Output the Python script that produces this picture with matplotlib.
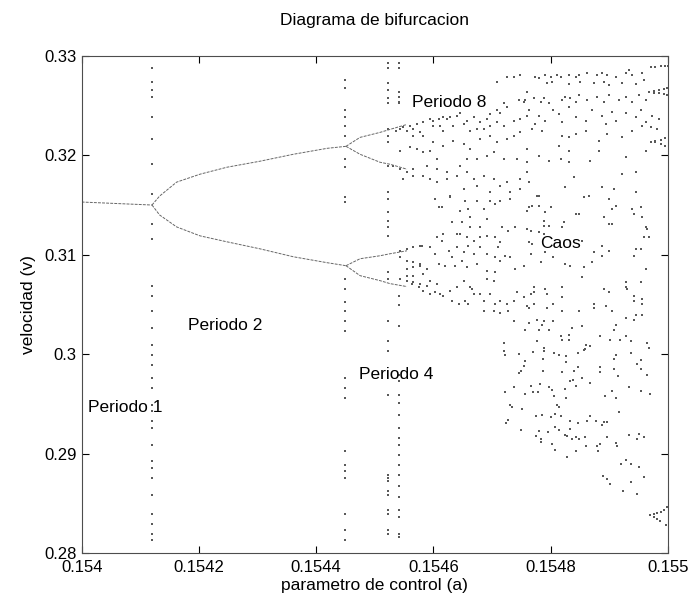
import numpy as np
import matplotlib
matplotlib.use("Agg")
import matplotlib.pyplot as plt

plt.rcParams['font.family'] = ['Liberation Sans', 'DejaVu Sans']

# --- branches (a, v) ---
p1_a = [0.15400, 0.15404, 0.15408, 0.15412]
p1_v = [0.3153, 0.3152, 0.3151, 0.3150]

p2_up_a = [0.154120, 0.154133, 0.154162, 0.154202, 0.154248, 0.154304, 0.154361, 0.154419, 0.154451]
p2_up_v = [0.3150, 0.3159, 0.3173, 0.3181, 0.3188, 0.3194, 0.3201, 0.3207, 0.3209]
p2_lo_a = [0.154120, 0.154133, 0.154162, 0.154202, 0.154248, 0.154304, 0.154361, 0.154419, 0.154451]
p2_lo_v = [0.3150, 0.3140, 0.3128, 0.3119, 0.3113, 0.3106, 0.3098, 0.3092, 0.3089]

p4_a = [0.154451, 0.154475, 0.154509, 0.154526, 0.154555]
p4_uu = [0.3209, 0.3218, 0.3223, 0.3226, 0.3231]
p4_ul = [0.3209, 0.3201, 0.3193, 0.3191, 0.3186]
p4_lu = [0.3089, 0.3096, 0.3099, 0.3101, 0.3104]
p4_ll = [0.3089, 0.3079, 0.3074, 0.3071, 0.3068]

# transient columns at the bifurcation points
col1_a = 0.154120
col1_v = [0.3288, 0.3274, 0.3266, 0.3259, 0.3238, 0.3216, 0.3191, 0.3161, 0.3131, 0.3116,
          0.3069, 0.3059, 0.3043, 0.3026, 0.3009, 0.2999, 0.2989, 0.2976, 0.2966, 0.2949,
          0.2943, 0.2933, 0.2926, 0.2909, 0.2893, 0.2886, 0.2876, 0.2859, 0.2839, 0.2829,
          0.2819, 0.2813]
col2_a = 0.154450
col2_v = [0.3276, 0.3268, 0.3246, 0.3238, 0.3229, 0.3219, 0.3196, 0.3188, 0.3158, 0.3153,
          0.3076, 0.3066, 0.3053, 0.3043, 0.3033, 0.3023, 0.2976, 0.2966, 0.2956, 0.2903,
          0.2889, 0.2883, 0.2876, 0.2839, 0.2823, 0.2813]
col3_a = 0.154523
col3_v = [0.3293, 0.3288, 0.3273, 0.3266, 0.3258, 0.3253, 0.3226, 0.3219, 0.3213, 0.3189,
          0.3163, 0.3156, 0.3143, 0.3134, 0.3128, 0.3119, 0.3083, 0.3076, 0.3033, 0.3013,
          0.3003, 0.2959, 0.2879, 0.2876, 0.2873, 0.2863, 0.2859, 0.2843, 0.2839, 0.2823,
          0.2819]
col4_a = 0.154542
col4_v = [0.3293, 0.3288, 0.3264, 0.3259, 0.3254, 0.3253, 0.3059, 0.3049, 0.3028, 0.2979,
          0.2973, 0.2959, 0.2951, 0.2939, 0.2926, 0.2916, 0.2909, 0.2899, 0.2889, 0.2879,
          0.2868, 0.2856, 0.2843, 0.2836, 0.2819, 0.2816]

# chaotic region, upper band
up_a = [0.154537, 0.154543, 0.154549, 0.154555, 0.154560, 0.154566, 0.154572, 0.154577, 0.154583, 0.154594,
        0.154600, 0.154609, 0.154617, 0.154623, 0.154566, 0.154583, 0.154600, 0.154612, 0.154617, 0.154629,
        0.154640, 0.154646, 0.154657, 0.154669, 0.154680, 0.154691, 0.154697, 0.154708, 0.154714, 0.154720,
        0.154726, 0.154746, 0.154754, 0.154760, 0.154708, 0.154726, 0.154737, 0.154748, 0.154634, 0.154652,
        0.154663, 0.154674, 0.154686, 0.154697, 0.154708, 0.154720, 0.154737, 0.154748, 0.154760, 0.154600,
        0.154617, 0.154634, 0.154652, 0.154663, 0.154680, 0.154697, 0.154708, 0.154726, 0.154737, 0.154748,
        0.154560, 0.154572, 0.154583, 0.154594, 0.154606, 0.154543, 0.154532, 0.154543, 0.154555, 0.154566,
        0.154589, 0.154606, 0.154623, 0.154646, 0.154657, 0.154674, 0.154691, 0.154703, 0.154720, 0.154743,
        0.154760, 0.154549, 0.154566, 0.154583, 0.154594, 0.154606, 0.154623, 0.154640, 0.154657, 0.154669,
        0.154686, 0.154703, 0.154714, 0.154726, 0.154748, 0.154760, 0.154629, 0.154652, 0.154674, 0.154697,
        0.154731, 0.154748,
        0.154774, 0.154780, 0.154791, 0.154800, 0.154811, 0.154817, 0.154831, 0.154843, 0.154848, 0.154862,
        0.154880, 0.154888, 0.154897, 0.154911, 0.154928, 0.154939, 0.154956, 0.154934,
        0.154971, 0.154979, 0.154988, 0.154996, 0.155000,
        0.154794, 0.154803, 0.154831, 0.154851, 0.154874, 0.154891, 0.154899, 0.154922, 0.154945, 0.154959,
        0.154968, 0.154976, 0.154985, 0.154993, 0.154999, 0.154976, 0.154985, 0.154993, 0.154999,
        0.154757, 0.154771, 0.154783, 0.154788, 0.154797, 0.154820, 0.154825, 0.154834, 0.154843, 0.154848,
        0.154862, 0.154880, 0.154891, 0.154899, 0.154917, 0.154928, 0.154939, 0.154951, 0.154962,
        0.154763, 0.154780, 0.154791, 0.154805, 0.154814, 0.154831, 0.154843, 0.154860, 0.154871, 0.154888,
        0.154905, 0.154911, 0.154928, 0.154945, 0.154954, 0.154962, 0.154973, 0.154985, 0.154774, 0.154820,
        0.154894,
        0.154768, 0.154785, 0.154820, 0.154831, 0.154843, 0.154860, 0.154882, 0.154897, 0.154922, 0.154939,
        0.154956, 0.154971, 0.154982,
        0.154971, 0.154979, 0.154988, 0.154996, 0.154979, 0.154988, 0.154996,
        0.154814, 0.154831, 0.154962,
        0.154760, 0.154780, 0.154797, 0.154817, 0.154831, 0.154868, 0.154882, 0.154922, 0.154928, 0.154945,
        0.154763, 0.154840, 0.154888, 0.154908, 0.154825, 0.154945, 0.154780, 0.154865]
up_v = [0.3224, 0.3226, 0.3228, 0.3224, 0.3229, 0.3226, 0.3231, 0.3223, 0.3233, 0.3236,
        0.3234, 0.3236, 0.3238, 0.3236, 0.3219, 0.3219, 0.3229, 0.3229, 0.3224, 0.3238,
        0.3239, 0.3243, 0.3234, 0.3238, 0.3233, 0.3236, 0.3241, 0.3246, 0.3243, 0.3253,
        0.3249, 0.3256, 0.3254, 0.3264, 0.3274, 0.3279, 0.3279, 0.3281, 0.3229, 0.3231,
        0.3224, 0.3226, 0.3226, 0.3229, 0.3233, 0.3229, 0.3234, 0.3236, 0.3239, 0.3213,
        0.3209, 0.3214, 0.3211, 0.3206, 0.3216, 0.3219, 0.3213, 0.3216, 0.3219, 0.3223,
        0.3208, 0.3206, 0.3203, 0.3204, 0.3196, 0.3204, 0.3189, 0.3186, 0.3183, 0.3186,
        0.3189, 0.3186, 0.3183, 0.3189, 0.3196, 0.3196, 0.3199, 0.3203, 0.3196, 0.3196,
        0.3206, 0.3176, 0.3179, 0.3179, 0.3176, 0.3173, 0.3176, 0.3179, 0.3183, 0.3176,
        0.3179, 0.3176, 0.3169, 0.3173, 0.3176, 0.3183, 0.3159, 0.3166, 0.3169, 0.3163,
        0.3163, 0.3166,
        0.3279, 0.3278, 0.3281, 0.3279, 0.3281, 0.3279, 0.3281, 0.3279, 0.3281, 0.3283,
        0.3281, 0.3283, 0.3281, 0.3279, 0.3283, 0.3281, 0.3283, 0.3286,
        0.3289, 0.3289, 0.3290, 0.3290, 0.3290,
        0.3273, 0.3274, 0.3272, 0.3274, 0.3273, 0.3274, 0.3271, 0.3273, 0.3272, 0.3276,
        0.3264, 0.3265, 0.3266, 0.3267, 0.3268, 0.3263, 0.3263, 0.3262, 0.3261,
        0.3256, 0.3258, 0.3254, 0.3258, 0.3253, 0.3256, 0.3259, 0.3258, 0.3254, 0.3261,
        0.3256, 0.3259, 0.3254, 0.3261, 0.3256, 0.3259, 0.3254, 0.3261, 0.3256,
        0.3246, 0.3239, 0.3234, 0.3246, 0.3241, 0.3249, 0.3238, 0.3234, 0.3246, 0.3239,
        0.3244, 0.3234, 0.3243, 0.3238, 0.3246, 0.3233, 0.3239, 0.3236, 0.3231, 0.3233,
        0.3231,
        0.3226, 0.3224, 0.3219, 0.3218, 0.3221, 0.3224, 0.3214, 0.3221, 0.3218, 0.3224,
        0.3229, 0.3228, 0.3226,
        0.3213, 0.3214, 0.3215, 0.3217, 0.3213, 0.3211, 0.3209,
        0.3209, 0.3204, 0.3204,
        0.3193, 0.3199, 0.3194, 0.3196, 0.3193, 0.3194, 0.3204, 0.3181, 0.3198, 0.3183,
        0.3173, 0.3178, 0.3168, 0.3166, 0.3168, 0.3163, 0.3159, 0.3159]

# chaotic region, middle band
mid_a = [0.154603, 0.154609, 0.154614, 0.154629, 0.154646, 0.154654, 0.154660, 0.154674, 0.154686, 0.154697,
         0.154706, 0.154714, 0.154731, 0.154740, 0.154760, 0.154760, 0.154663, 0.154649, 0.154632, 0.154663,
         0.154680, 0.154691, 0.154717, 0.154728, 0.154606, 0.154617, 0.154640, 0.154646, 0.154657, 0.154669,
         0.154680, 0.154691, 0.154706, 0.154714, 0.154711, 0.154580, 0.154594, 0.154603, 0.154614, 0.154626,
         0.154632, 0.154640, 0.154652, 0.154660, 0.154669, 0.154680, 0.154691, 0.154706, 0.154714, 0.154609,
         0.154620, 0.154637, 0.154649, 0.154657, 0.154674, 0.154691, 0.154706, 0.154723, 0.154731, 0.154740,
         0.154754,
         0.154543, 0.154555, 0.154566, 0.154577, 0.154543, 0.154555, 0.154566, 0.154577, 0.154555, 0.154566,
         0.154577, 0.154589, 0.154543, 0.154555, 0.154566, 0.154577, 0.154589, 0.154555, 0.154566, 0.154583,
         0.154594, 0.154606, 0.154603, 0.154612, 0.154617, 0.154629, 0.154640, 0.154652, 0.154663, 0.154669,
         0.154680, 0.154686, 0.154697, 0.154706, 0.154714, 0.154726, 0.154632, 0.154643, 0.154654, 0.154660,
         0.154666, 0.154691, 0.154703, 0.154743, 0.154754, 0.154766, 0.154760, 0.154737, 0.154583, 0.154575,
         0.154563, 0.154594, 0.154686, 0.154703, 0.154714, 0.154728, 0.154737, 0.154757, 0.154720, 0.154720,
         0.154777, 0.154763, 0.154768, 0.154780, 0.154800, 0.154791, 0.154788, 0.154797, 0.154788, 0.154820,
         0.154823, 0.154843, 0.154848, 0.154857, 0.154899, 0.154911, 0.154905, 0.154939, 0.154954, 0.154942,
         0.154956, 0.154891, 0.154899, 0.154905, 0.154962, 0.154965, 0.154959, 0.154968, 0.154760, 0.154766,
         0.154780, 0.154788, 0.154763, 0.154768, 0.154791, 0.154766, 0.154805, 0.154783, 0.154825, 0.154834,
         0.154857, 0.154871, 0.154874, 0.154888, 0.154888, 0.154899, 0.154854, 0.154945, 0.154954, 0.154942,
         0.154962, 0.154854, 0.154928, 0.154954, 0.154928, 0.154931, 0.154891, 0.154899, 0.154942, 0.154942,
         0.154956, 0.154956, 0.154945, 0.154956, 0.154771, 0.154771, 0.154791, 0.154794, 0.154820, 0.154820,
         0.154805, 0.154771, 0.154820, 0.154794, 0.154763, 0.154874, 0.154874, 0.154894, 0.154905, 0.154848,
         0.154928, 0.154942, 0.154763, 0.154777, 0.154788, 0.154805, 0.154780, 0.154797, 0.154785, 0.154837,
         0.154854, 0.154817, 0.154831, 0.154831, 0.154820, 0.154777, 0.154788, 0.154860, 0.154868, 0.154885,
         0.154902, 0.154919, 0.154928, 0.154937, 0.154965, 0.154911, 0.154968, 0.154908, 0.154857]
mid_v = [0.3156, 0.3148, 0.3148, 0.3158, 0.3144, 0.3154, 0.3146, 0.3154, 0.3146, 0.3154,
         0.3151, 0.3154, 0.3156, 0.3128, 0.3144, 0.3126, 0.3138, 0.3133, 0.3133, 0.3128,
         0.3128, 0.3136, 0.3128, 0.3124, 0.3118, 0.3121, 0.3121, 0.3121, 0.3118, 0.3114,
         0.3118, 0.3119, 0.3118, 0.3113, 0.3108, 0.3109, 0.3108, 0.3101, 0.3114, 0.3104,
         0.3098, 0.3108, 0.3103, 0.3109, 0.3101, 0.3108, 0.3101, 0.3098, 0.3094, 0.3091,
         0.3089, 0.3089, 0.3094, 0.3088, 0.3091, 0.3084, 0.3083, 0.3099, 0.3098, 0.3086,
         0.3089,
         0.3104, 0.3106, 0.3108, 0.3109, 0.3098, 0.3094, 0.3093, 0.3091, 0.3086, 0.3088,
         0.3089, 0.3086, 0.3076, 0.3074, 0.3073, 0.3071, 0.3069, 0.3079, 0.3079, 0.3081,
         0.3074, 0.3071, 0.3063, 0.3061, 0.3059, 0.3064, 0.3068, 0.3074, 0.3068, 0.3061,
         0.3061, 0.3054, 0.3061, 0.3051, 0.3054, 0.3051, 0.3054, 0.3051, 0.3054, 0.3051,
         0.3066, 0.3076, 0.3074, 0.3063, 0.3058, 0.3061, 0.3048, 0.3054, 0.3064, 0.3068,
         0.3071, 0.3061, 0.3043, 0.3043, 0.3041, 0.3043, 0.3033, 0.3024, 0.3011, 0.3003,
         0.3159, 0.3148, 0.3149, 0.3149, 0.3148, 0.3143, 0.3134, 0.3129, 0.3129, 0.3128,
         0.3133, 0.3141, 0.3141, 0.3158, 0.3156, 0.3149, 0.3146, 0.3146, 0.3148, 0.3141,
         0.3138, 0.3138, 0.3131, 0.3131, 0.3128, 0.3126, 0.3118, 0.3118, 0.3126, 0.3124,
         0.3123, 0.3121, 0.3113, 0.3111, 0.3103, 0.3101, 0.3098, 0.3093, 0.3091, 0.3089,
         0.3088, 0.3093, 0.3103, 0.3109, 0.3099, 0.3104, 0.3114, 0.3106, 0.3106, 0.3099,
         0.3086, 0.3078, 0.3073, 0.3073, 0.3068, 0.3066, 0.3066, 0.3063, 0.3059, 0.3054,
         0.3056, 0.3051, 0.3039, 0.3039, 0.3068, 0.3063, 0.3066, 0.3061, 0.3068, 0.3058,
         0.3051, 0.3051, 0.3043, 0.3046, 0.3046, 0.3051, 0.3046, 0.3048, 0.3043, 0.3043,
         0.3036, 0.3034, 0.3031, 0.3034, 0.3033, 0.3033, 0.3024, 0.3024, 0.3029, 0.3026,
         0.3028, 0.3018, 0.3019, 0.3014, 0.3014, 0.3013, 0.3006, 0.3009, 0.3008, 0.3018,
         0.3014, 0.3014, 0.3018, 0.3013, 0.3011, 0.3029, 0.3006, 0.3024, 0.3004]

# chaotic region, lower band
lo_a = [0.154720, 0.154723, 0.154747, 0.154770, 0.154789, 0.154806, 0.154814, 0.154827, 0.154846, 0.154858,
        0.154911, 0.154937, 0.154908, 0.154954, 0.154948, 0.154757, 0.154787, 0.154827, 0.154754, 0.154750,
        0.154747, 0.154787, 0.154820, 0.154840, 0.154846, 0.154885, 0.154884, 0.154908, 0.154915, 0.154954,
        0.154964, 0.154834, 0.154839, 0.154854, 0.154843, 0.154868, 0.154767, 0.154782, 0.154797, 0.154803,
        0.154824, 0.154738, 0.154722, 0.154757, 0.154770, 0.154778, 0.154806, 0.154826, 0.154893, 0.154905,
        0.154912, 0.154933, 0.154954, 0.154969, 0.154730, 0.154735, 0.154751, 0.154811, 0.154815, 0.154776,
        0.154785, 0.154800, 0.154808, 0.154817, 0.154833, 0.154846, 0.154863, 0.154867, 0.154878, 0.154888,
        0.154891, 0.154897, 0.154917, 0.154727, 0.154724, 0.154750, 0.154781, 0.154796, 0.154808, 0.154814,
        0.154833, 0.154776, 0.154784, 0.154784, 0.154824, 0.154828, 0.154836, 0.154843, 0.154848, 0.154858,
        0.154803, 0.154808, 0.154828, 0.154844, 0.154860, 0.154879, 0.154881, 0.154884, 0.154896, 0.154911,
        0.154914, 0.154933, 0.154947, 0.154951, 0.154960, 0.154921, 0.154929, 0.154937, 0.154951, 0.154960,
        0.154938, 0.154890, 0.154897, 0.154901, 0.154924, 0.154948, 0.154970, 0.154977, 0.154982, 0.154988,
        0.154994, 0.154999, 0.154977, 0.154982, 0.154987, 0.154997]
lo_v = [0.3003, 0.2999, 0.3000, 0.3002, 0.3003, 0.3001, 0.2999, 0.2998, 0.3001, 0.3005,
        0.2999, 0.3001, 0.2995, 0.2994, 0.2990, 0.2993, 0.2995, 0.2992, 0.2988, 0.2983,
        0.2981, 0.2983, 0.2982, 0.2983, 0.2987, 0.2987, 0.2982, 0.2985, 0.2978, 0.2985,
        0.2979, 0.2973, 0.2974, 0.2976, 0.2968, 0.2971, 0.2968, 0.2970, 0.2967, 0.2964,
        0.2965, 0.2967, 0.2962, 0.2960, 0.2962, 0.2962, 0.2958, 0.2956, 0.2958, 0.2963,
        0.2956, 0.2967, 0.2963, 0.2960, 0.2949, 0.2947, 0.2945, 0.2949, 0.2947, 0.2938,
        0.2939, 0.2937, 0.2940, 0.2938, 0.2933, 0.2931, 0.2933, 0.2938, 0.2933, 0.2929,
        0.2932, 0.2932, 0.2942, 0.2934, 0.2931, 0.2924, 0.2923, 0.2922, 0.2927, 0.2924,
        0.2925, 0.2918, 0.2915, 0.2912, 0.2919, 0.2918, 0.2915, 0.2917, 0.2915, 0.2917,
        0.2910, 0.2904, 0.2897, 0.2903, 0.2908, 0.2908, 0.2903, 0.2910, 0.2917, 0.2911,
        0.2908, 0.2919, 0.2915, 0.2920, 0.2917, 0.2890, 0.2894, 0.2890, 0.2887, 0.2877,
        0.2872, 0.2878, 0.2875, 0.2870, 0.2863, 0.2860, 0.2838, 0.2839, 0.2840, 0.2841,
        0.2843, 0.2846, 0.2836, 0.2834, 0.2832, 0.2828]

xticks = [0.154, 0.1542, 0.1544, 0.1546, 0.1548, 0.155]
xtick_labels = ['0.154', '0.1542', '0.1544', '0.1546', '0.1548', '0.155']
yticks = [0.28, 0.29, 0.30, 0.31, 0.32, 0.33]
ytick_labels = ['0.28', '0.29', '0.3', '0.31', '0.32', '0.33']

labels = ['Periodo 1', 'Periodo 2', 'Periodo 4', 'Periodo 8', 'Caos']
label_a = [0.154010, 0.154181, 0.154474, 0.154564, 0.154783]
label_v = [0.2946, 0.3029, 0.2980, 0.3253, 0.3111]

fig = plt.figure(figsize=(6.92, 6.0), dpi=100)
ax = fig.add_axes([0.118, 0.078, 0.847, 0.829])

dot = dict(s=2.2, color='0.35', linewidths=0, marker='s')
line = dict(color='0.4', lw=0.7, ls=(0, (3, 1.2)))

ax.plot(p1_a, p1_v, **line)
ax.plot(p2_up_a, p2_up_v, **line)
ax.plot(p2_lo_a, p2_lo_v, **line)
for br in (p4_uu, p4_ul, p4_lu, p4_ll):
    ax.plot(p4_a, br, **line)

for ca, cv in ((col1_a, col1_v), (col2_a, col2_v), (col3_a, col3_v), (col4_a, col4_v)):
    ax.scatter([ca] * len(cv), cv, **dot)

ax.scatter(up_a, up_v, **dot)
ax.scatter(mid_a, mid_v, **dot)
ax.scatter(lo_a, lo_v, **dot)

for t, a, v in zip(labels, label_a, label_v):
    ax.text(a, v, t, fontsize=12.5, ha='left', va='center')

ax.set_xlim(0.154, 0.155)
ax.set_ylim(0.28, 0.33)
ax.set_xticks(xticks)
ax.set_xticklabels(xtick_labels)
ax.set_yticks(yticks)
ax.set_yticklabels(ytick_labels)
ax.tick_params(direction='in', top=True, right=True, length=5, labelsize=12)
ax.tick_params(axis='x', pad=5)
for s in ax.spines.values():
    s.set_linewidth(0.8)
    s.set_color('0.3')

ax.set_title('Diagrama de bifurcacion', fontsize=12.5, pad=22)
ax.set_xlabel('parametro de control (a)', fontsize=12.5, labelpad=2)
ax.set_ylabel('velocidad (v)', fontsize=12.5, labelpad=6)

fig.savefig('out.png', dpi=100)
